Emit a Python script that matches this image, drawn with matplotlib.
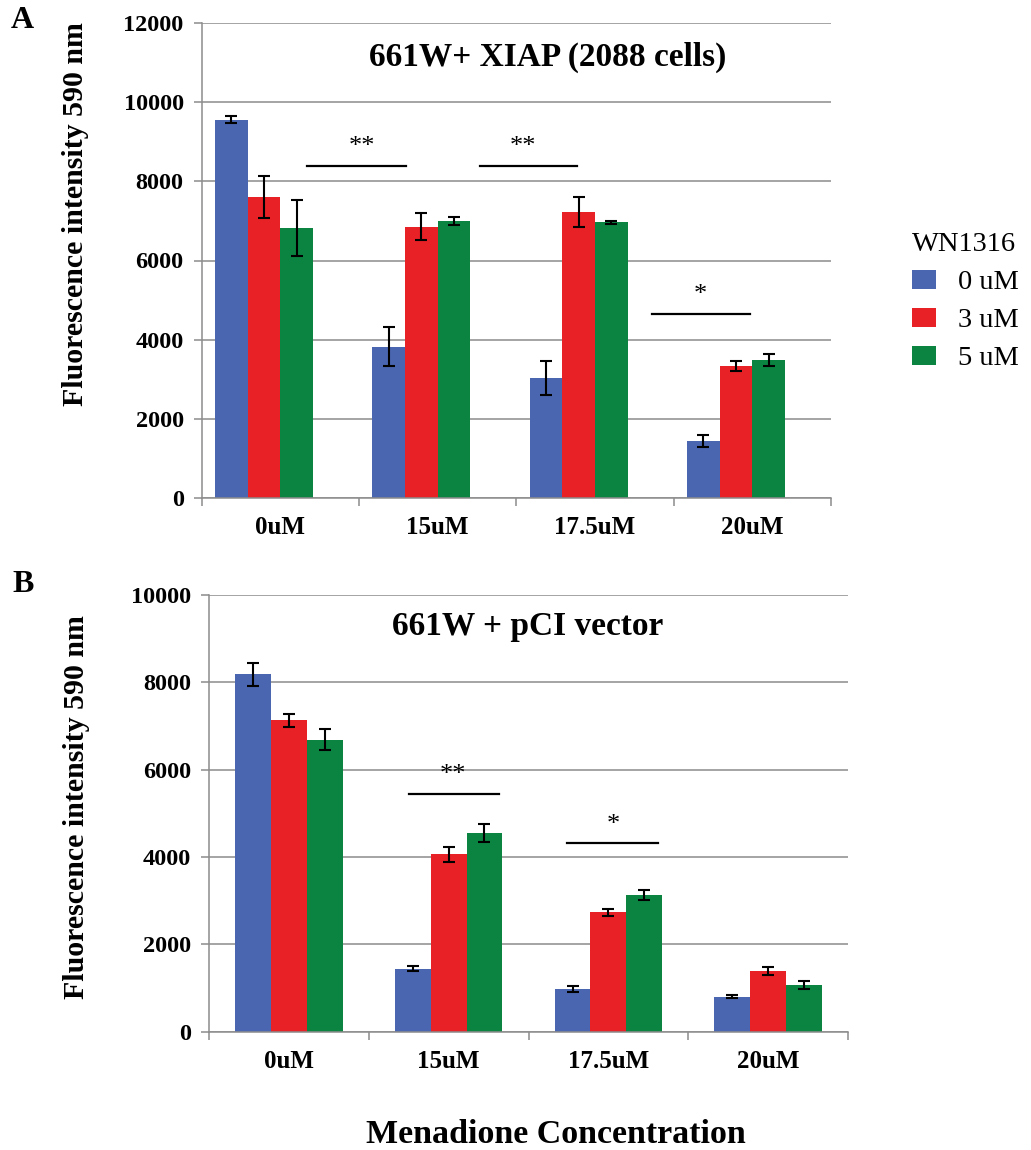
import matplotlib
matplotlib.use('Agg')
import matplotlib.pyplot as plt
import numpy as np
from matplotlib.patches import Patch

plt.rcParams['font.family'] = ['Liberation Serif', 'DejaVu Serif']

# ---------------- data ----------------
categories = ['0uM', '15uM', '17.5uM', '20uM']
series_names = ['0 uM', '3 uM', '5 uM']
colors = ['#4a66b0', '#e82127', '#0b8442']

# Panel A: 661W + XIAP (2088 cells)
a_wn0 = [9550, 3830, 3040, 1445]
a_wn0_err = [90, 495, 430, 155]
a_wn3 = [7605, 6850, 7220, 3335]
a_wn3_err = [530, 345, 370, 120]
a_wn5 = [6825, 6990, 6960, 3490]
a_wn5_err = [710, 105, 40, 140]

# Panel B: 661W + pCI vector
b_wn0 = [8185, 1445, 985, 800]
b_wn0_err = [260, 65, 65, 38]
b_wn3 = [7130, 4060, 2735, 1395]
b_wn3_err = [150, 175, 80, 95]
b_wn5 = [6690, 4540, 3130, 1070]
b_wn5_err = [245, 205, 115, 88]

# significance bars: (x start, x end, y line, label, label x, label baseline y)
a_sig_x0 = [0.169, 1.267, 2.363]
a_sig_x1 = [0.796, 1.887, 2.984]
a_sig_y = [8386, 8386, 4647]
a_sig_lab = ['**', '**', '*']
a_sig_tx = [0.517, 1.54, 2.671]
a_sig_ty = [8720, 8720, 4983]

b_sig_x0 = [0.754, 1.741]
b_sig_x1 = [1.318, 2.309]
b_sig_y = [5435, 4313]
b_sig_lab = ['**', '*']
b_sig_tx = [1.03, 2.03]
b_sig_ty = [5748, 4603]

W, H = 1031, 1150
fig = plt.figure(figsize=(W / 100, H / 100), dpi=100)

GRID = '#8c8c8c'


def px_axes(l, r, t, b):
    return fig.add_axes([l / W, 1 - b / H, (r - l) / W, (b - t) / H])


def style_axes(ax, ymax, ystep):
    ax.set_xlim(-0.5, 3.5)
    ax.set_ylim(0, ymax)
    ax.set_yticks(np.arange(0, ymax + 1, ystep))
    ax.set_yticklabels([f'{int(v)}' for v in np.arange(0, ymax + 1, ystep)],
                       fontsize=17.5, fontweight='bold')
    ax.set_xticks(range(len(categories)))
    ax.set_xticklabels(categories, fontsize=18, fontweight='bold')
    ax.set_xticks(np.arange(-0.5, 4.0, 1.0), minor=True)
    ax.tick_params(axis='x', which='major', length=0, pad=13)
    ax.tick_params(axis='x', which='minor', length=6, width=1.1, color=GRID, direction='out')
    ax.tick_params(axis='y', which='major', length=6, width=1.1, color=GRID, direction='out', pad=7)
    ax.yaxis.grid(True, color=GRID, lw=1.1)
    ax.set_axisbelow(True)
    for s in ['top', 'right']:
        ax.spines[s].set_visible(False)
    for s in ['left', 'bottom']:
        ax.spines[s].set_color(GRID)
        ax.spines[s].set_linewidth(1.1)


def draw_bars(ax, vals, errs, offsets, width):
    x = np.arange(len(categories))
    for v, e, off, c in zip(vals, errs, offsets, colors):
        ax.bar(x + off, v, width, color=c, zorder=2)
        ax.errorbar(x + off, v, yerr=e, fmt='none', ecolor='black',
                    elinewidth=1.5, capsize=4.5, capthick=1.5, zorder=3)


# ---------------- Panel A ----------------
axA = px_axes(201.7, 831, 22.7, 498.3)
style_axes(axA, 12000, 2000)
wA = 0.208
draw_bars(axA, [a_wn0, a_wn3, a_wn5], [a_wn0_err, a_wn3_err, a_wn5_err],
          [-1.5 * wA, -0.5 * wA, 0.5 * wA], wA)
for x0, x1, y, lab, tx, ty in zip(a_sig_x0, a_sig_x1, a_sig_y, a_sig_lab, a_sig_tx, a_sig_ty):
    axA.plot([x0, x1], [y, y], color='black', lw=1.6, zorder=4)
    axA.text(tx, ty, lab, ha='center', va='baseline', fontsize=19, zorder=4)
axA.text(0.55, 11134, '661W+ XIAP (2088 cells)', transform=axA.get_yaxis_transform(),
         ha='center', va='center', fontsize=24, fontweight='bold')
axA.set_ylabel('Fluorescence intensity 590 nm', fontsize=21.5, fontweight='bold')
axA.yaxis.set_label_coords(-0.179, 0.598)

# ---------------- Panel B ----------------
axB = px_axes(209, 848, 595, 1031.7)
style_axes(axB, 10000, 2000)
wB = 0.224
draw_bars(axB, [b_wn0, b_wn3, b_wn5], [b_wn0_err, b_wn3_err, b_wn5_err],
          [-wB, 0, wB], wB)
for x0, x1, y, lab, tx, ty in zip(b_sig_x0, b_sig_x1, b_sig_y, b_sig_lab, b_sig_tx, b_sig_ty):
    axB.plot([x0, x1], [y, y], color='black', lw=1.6, zorder=4)
    axB.text(tx, ty, lab, ha='center', va='baseline', fontsize=19, zorder=4)
axB.text(0.498, 9275, '661W + pCI vector', transform=axB.get_yaxis_transform(),
         ha='center', va='center', fontsize=24, fontweight='bold')
axB.set_ylabel('Fluorescence intensity 590 nm', fontsize=21.5, fontweight='bold')
axB.yaxis.set_label_coords(-0.186, 0.5146)

# ---------------- shared elements ----------------
fig.text(22 / W, 1 - 21 / H, 'A', ha='center', va='center', fontsize=23, fontweight='bold')
fig.text(23 / W, 1 - 585 / H, 'B', ha='center', va='center', fontsize=23, fontweight='bold')
fig.text(556 / W, 1 - 1143 / H, 'Menadione Concentration', ha='center', va='baseline',
         fontsize=24.5, fontweight='bold')

handles = [Patch(facecolor=c, edgecolor='none') for c in colors]
leg = fig.legend(handles, series_names, title='WN1316', loc='upper left',
                 bbox_to_anchor=(912 / W, 1 - 232 / H), frameon=False,
                 fontsize=20.5, title_fontsize=20.5, borderpad=0, borderaxespad=0,
                 handlelength=0.84, handleheight=0.66, handletextpad=0.77,
                 labelspacing=0.44, alignment='left')

fig.savefig('out.png', dpi=100)
